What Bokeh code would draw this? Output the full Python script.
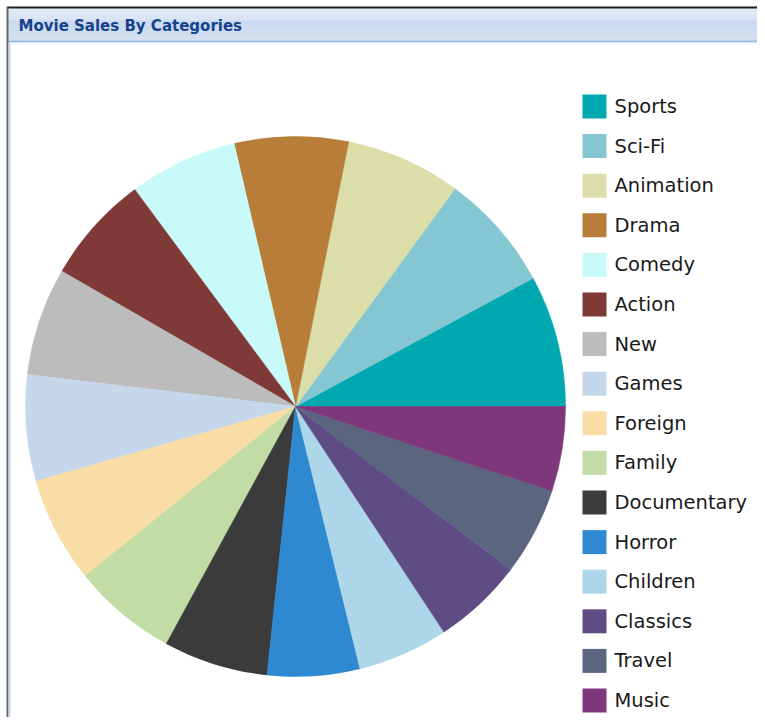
import numpy as np
from bokeh.plotting import figure
from bokeh.models import Range1d, ColumnDataSource
from bokeh.core.properties import value
from bokeh.embed import file_html
from bokeh.resources import INLINE

# ---- data ----
categories = ["Sports", "Sci-Fi", "Animation", "Drama", "Comedy", "Action", "New", "Games",
              "Foreign", "Family", "Documentary", "Horror", "Children", "Classics", "Travel", "Music"]
sales = [5314.21, 4756.98, 4656.30, 4587.39, 4383.58, 4375.85, 4361.57, 4281.33,
         4270.67, 4226.07, 4217.52, 3722.54, 3655.55, 3639.59, 3549.64, 3417.72]
colors = ["#00a9b0", "#85c6d3", "#dcdea9", "#b77d39", "#c9fafa", "#7f3936", "#bcbcbc", "#c6d7ec",
          "#f8dda7", "#c2dca5", "#3b3b3b", "#2e89d1", "#add7e8", "#5e4d84", "#5b6580", "#7e377b"]
title_text = "Movie Sales By Categories"

W, H = 757, 717


def Y(v):
    # convert a top-based pixel offset to data y
    return H - v


p = figure(width=W, height=H, output_backend="svg", toolbar_location=None,
           x_range=Range1d(0, W), y_range=Range1d(0, H),
           x_axis_location=None, y_axis_location=None, min_border=0)
p.grid.visible = False
p.outline_line_color = None
p.background_fill_color = "white"
p.border_fill_color = "white"

# ---- panel header (gradient approximated with thin bands) ----
def hex2rgb(h):
    h = h.lstrip("#")
    return np.array([int(h[i:i + 2], 16) for i in (0, 2, 4)], dtype=float)


def band(y0, y1, c0, c1, n):
    a, b = hex2rgb(c0), hex2rgb(c1)
    edges = np.linspace(y0, y1, n + 1)
    cols = []
    for k in range(n):
        t = k / max(n - 1, 1)
        c = a + (b - a) * t
        cols.append("#%02x%02x%02x" % tuple(int(round(v)) for v in c))
    p.quad(left=7, right=W, top=[Y(e) for e in edges[:-1]], bottom=[Y(e) for e in edges[1:]],
           fill_color=cols, line_color=None)


band(8, 20, "#d8e5f4", "#cbdbf0", 12)
band(20, 40, "#b9cde9", "#c4d6ed", 20)
p.quad(left=7, right=W, top=Y(40), bottom=Y(42), fill_color="#9bb8e0", line_color=None)
p.quad(left=7, right=W, top=Y(42), bottom=Y(43), fill_color="#e4edf8", line_color=None)
# outer frame lines
p.quad(left=7, right=W, top=Y(6), bottom=Y(8), fill_color="#1e1e1e", line_color=None)
p.quad(left=6, right=8, top=Y(6), bottom=Y(H), fill_color="#666666", line_color=None)
p.quad(left=8, right=10, top=Y(43), bottom=Y(H), fill_color="#c3d6f0", line_color=None)

p.text(x=[18], y=[Y(25)], text=[title_text], text_font=value("DejaVu Sans"),
       text_font_style="bold", text_font_size="15px", text_color="#15428b",
       text_baseline="middle", text_align="left")

# ---- pie ----
vals = np.array(sales, dtype=float)
frac = vals / vals.sum()
ends = np.cumsum(frac) * 2 * np.pi
starts = np.concatenate([[0.0], ends[:-1]])
src = ColumnDataSource(dict(start=starts, end=ends, color=colors, cat=categories))
cx, cy, r = 295, Y(406), 270
p.wedge(x=cx, y=cy, radius=r, start_angle="start", end_angle="end", direction="anticlock",
        fill_color="color", line_color="color", line_width=0.6, source=src)

# ---- legend ----
n = len(categories)
ly = [Y(106 + 39.6 * i) for i in range(n)]
p.rect(x=[594] * n, y=ly, width=24, height=24, fill_color=colors, line_color=None)
p.text(x=[614] * n, y=ly, text=categories, text_font=value("DejaVu Sans"),
       text_font_size="19.5px", text_color="#1a1a1a", text_baseline="middle", text_align="left")

open("out.html", "w").write(file_html(p, INLINE))
